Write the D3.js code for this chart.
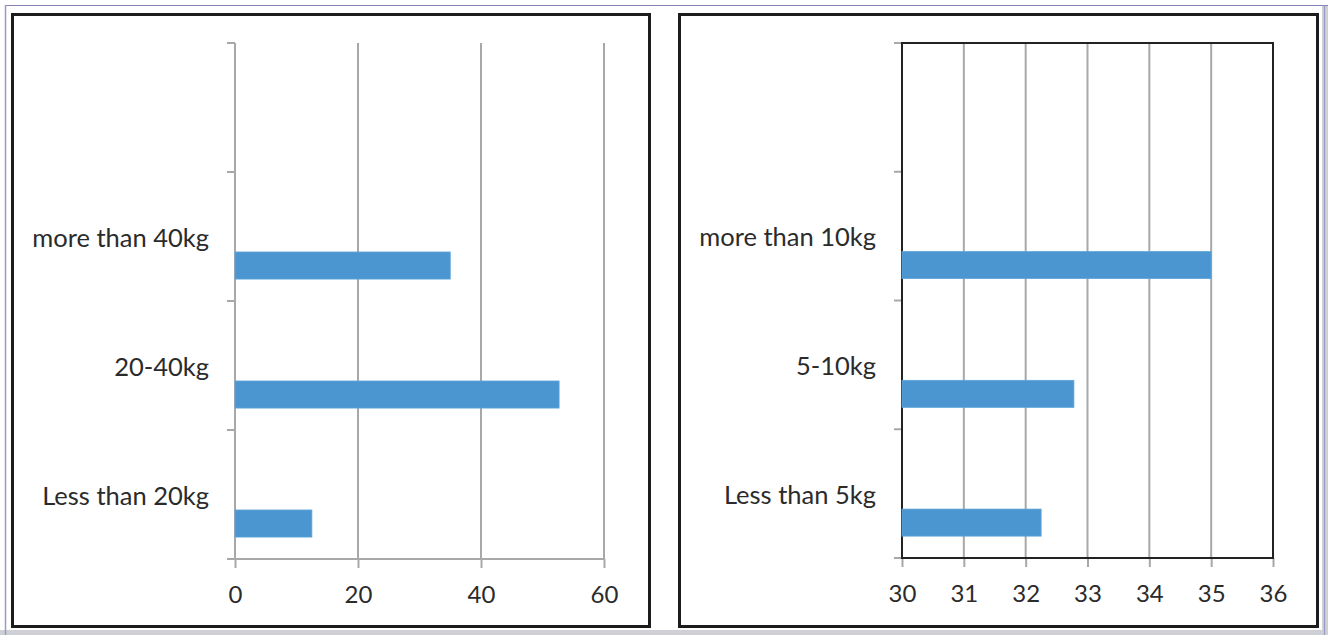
<!DOCTYPE html>
<html>
<head>
<meta charset="utf-8">
<script src="https://cdn.jsdelivr.net/npm/d3@7"></script>
<style>
  html, body { margin: 0; padding: 0; background: #fff; }
  svg { display: block; }
  text { font-family: Lato, "Open Sans", sans-serif; fill: #2b2b2b; }
</style>
</head>
<body>
<svg id="chart" width="1328" height="635"></svg>
<script>
// Weight groups, left chart (bottom to top; top slot is left empty)
const leftCategories = ["Less than 20kg", "20-40kg", "more than 40kg", ""];
const leftValues = [12.5, 52.7, 35, null];
const leftTicks = [0, 20, 40, 60];

// Weight groups, right chart
const rightCategories = ["Less than 5kg", "5-10kg", "more than 10kg", ""];
const rightValues = [32.25, 32.78, 35, null];
const rightTicks = [30, 31, 32, 33, 34, 35, 36];

const svg = d3.select("#chart");
const W = 1328, H = 635;

// page frame
svg.append("rect").attr("x", 0).attr("y", 0).attr("width", W).attr("height", H).attr("fill", "#fff");
svg.append("rect").attr("x", 0).attr("y", 630).attr("width", W).attr("height", 5).attr("fill", "#cfd0d6");
svg.append("rect").attr("x", 1322).attr("y", 5).attr("width", 6).attr("height", 630).attr("fill", "#cfd0d6");
svg.append("line").attr("x1", 5).attr("x2", W).attr("y1", 5.5).attr("y2", 5.5).attr("stroke", "#8585b5").attr("stroke-width", 1.2);
svg.append("line").attr("x1", 5.5).attr("x2", 5.5).attr("y1", 5).attr("y2", H).attr("stroke", "#9a9ac4").attr("stroke-width", 1.5);
svg.append("line").attr("x1", 1324.5).attr("x2", 1324.5).attr("y1", 5).attr("y2", H).attr("stroke", "#9a9ac4").attr("stroke-width", 1.2);

// panel boxes
[[12.5, 14.5, 637, 612], [679.5, 14.5, 638, 612]].forEach(([x, y, w, h]) => {
  svg.append("rect").attr("x", x).attr("y", y).attr("width", w).attr("height", h)
    .attr("fill", "#fff").attr("stroke", "#1c1c1c").attr("stroke-width", 3);
});

const gridColor = "#a8a8a8";
const barColor = "#4b96d0";

function drawPanel(opts) {
  const { categories, values, ticks, left, right, top, bottom, frame } = opts;
  const g = svg.append("g");

  const x = d3.scaleLinear().domain([ticks[0], ticks[ticks.length - 1]]).range([left, right]);
  const y = d3.scaleBand().domain(categories).range([bottom, top]).padding(0);
  const bw = y.bandwidth();

  // vertical gridlines
  g.append("g").selectAll("line").data(ticks.slice(1)).join("line")
    .attr("x1", d => x(d)).attr("x2", d => x(d))
    .attr("y1", top).attr("y2", bottom)
    .attr("stroke", gridColor).attr("stroke-width", 2);

  // bottom axis
  const xAxis = d3.axisBottom(x).tickValues(ticks).tickFormat(d3.format("d"))
    .tickSize(9).tickSizeOuter(0).tickPadding(8);
  const ax = g.append("g").attr("transform", `translate(0,${bottom})`).call(xAxis);
  ax.select(".domain").remove();
  ax.selectAll(".tick line").attr("stroke", gridColor).attr("stroke-width", 2);
  ax.selectAll(".tick text").attr("font-size", 24).attr("fill", "#2b2b2b")
    .attr("dy", null).attr("y", 0).attr("transform", "translate(0,44)");
  g.append("line").attr("x1", left - 8).attr("x2", right).attr("y1", bottom).attr("y2", bottom)
    .attr("stroke", frame ? "#222" : gridColor).attr("stroke-width", 2);

  // category axis and boundary ticks
  const bounds = categories.map(c => y(c)).concat([y(categories[0]) + bw]);
  g.append("g").selectAll("line").data(bounds).join("line")
    .attr("x1", left - 8).attr("x2", left)
    .attr("y1", d => d).attr("y2", d => d)
    .attr("stroke", gridColor).attr("stroke-width", 2);
  g.append("line").attr("x1", left).attr("x2", left).attr("y1", top).attr("y2", bottom)
    .attr("stroke", frame ? "#222" : gridColor).attr("stroke-width", 2);

  if (frame) {
    g.append("rect").attr("x", left).attr("y", top).attr("width", right - left).attr("height", bottom - top)
      .attr("fill", "none").attr("stroke", "#222").attr("stroke-width", 2);
  }

  // category labels
  g.append("g").selectAll("text").data(categories.filter(c => c !== "")).join("text")
    .attr("x", left - 26).attr("y", d => y(d) + bw / 2 + 10)
    .attr("text-anchor", "end").attr("font-size", 25.5).text(d => d);

  // bars
  const rows = categories.map((c, i) => ({ c, v: values[i] })).filter(d => d.v != null);
  g.append("g").selectAll("rect").data(rows).join("rect")
    .attr("x", x(ticks[0])).attr("y", d => y(d.c) + bw * 0.62)
    .attr("width", d => x(d.v) - x(ticks[0])).attr("height", bw * 0.21)
    .attr("fill", barColor).attr("stroke", "#5ea6dc").attr("stroke-width", 0.8);
}

drawPanel({ categories: leftCategories, values: leftValues, ticks: leftTicks,
  left: 235, right: 604, top: 43, bottom: 559, frame: false });
drawPanel({ categories: rightCategories, values: rightValues, ticks: rightTicks,
  left: 902, right: 1273, top: 43, bottom: 558, frame: true });
</script>
</body>
</html>
